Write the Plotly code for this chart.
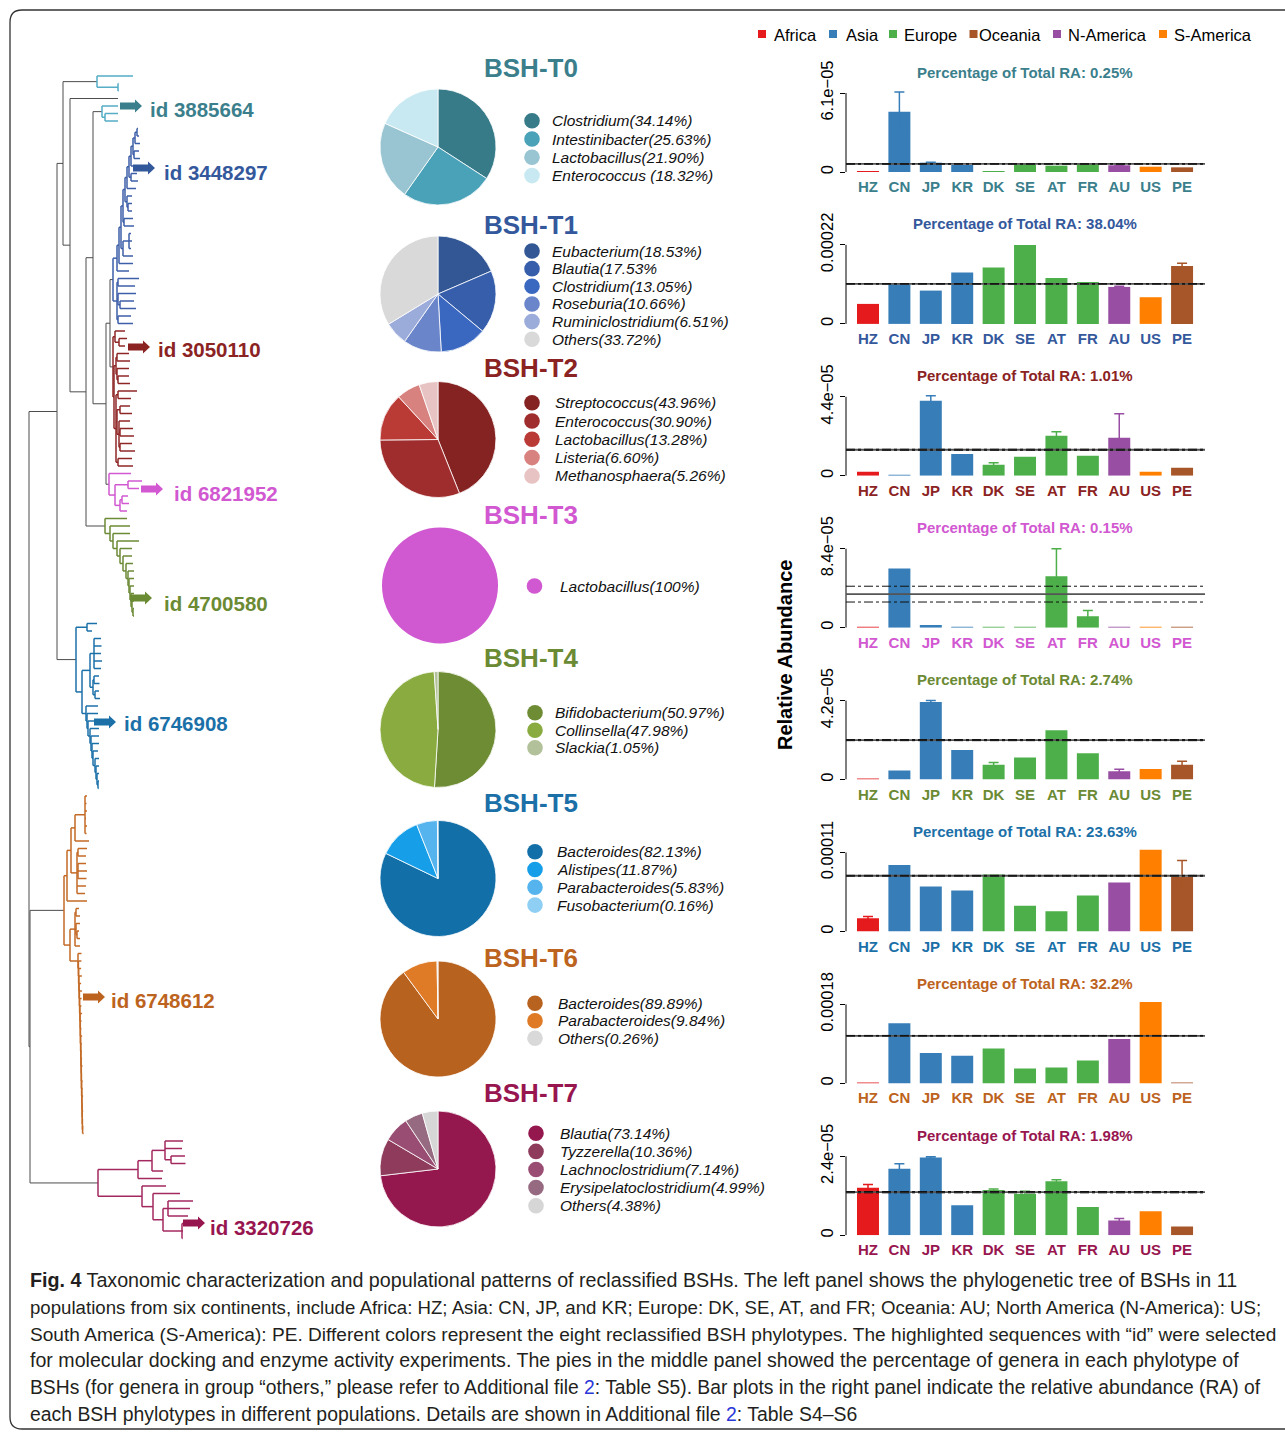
import plotly.graph_objects as go

W, H = 1285, 1432
FONT = "Liberation Sans, Arial, Helvetica, sans-serif"

# ---------------- populations ----------------
COUNTRIES = ["HZ", "CN", "JP", "KR", "DK", "SE", "AT", "FR", "AU", "US", "PE"]
CONTINENTS = ["Africa", "Asia", "Europe", "Oceania", "N-America", "S-America"]
CONTINENT_COLORS = ["#e41a1c", "#377eb8", "#4daf4a", "#a65628", "#984ea3", "#ff7f00"]
COUNTRY_COLORS = ["#e41a1c", "#377eb8", "#377eb8", "#377eb8", "#4daf4a", "#4daf4a",
                  "#4daf4a", "#4daf4a", "#984ea3", "#ff7f00", "#a65628"]

# ---------------- phylotypes ----------------
PHYLOTYPES = ["BSH-T0", "BSH-T1", "BSH-T2", "BSH-T3", "BSH-T4", "BSH-T5", "BSH-T6", "BSH-T7"]
TYPE_COLORS = ["#3b7f8c", "#34589c", "#8b2323", "#d158d1", "#6b8a34", "#1b70a8", "#bd6320", "#98164f"]
BRANCH_COLORS = ["#55adc6", "#3d5fa8", "#8f2626", "#d158d1", "#6b8a34", "#1b70a8", "#c36a26", "#a3285f"]
TOTAL_RA = ["0.25%", "38.04%", "1.01%", "0.15%", "2.74%", "23.63%", "32.2%", "1.98%"]

# relative abundance per population (mean and error) for each phylotype
RA_T0 = [0.4e-6, 4.66e-5, 7.2e-6, 5.4e-6, 0.5e-6, 5.9e-6, 4.9e-6, 6.4e-6, 5.2e-6, 4.1e-6, 3.6e-6]
ERR_T0 = [0, 1.52e-5, 0.3e-6, 0, 0, 0.5e-6, 0, 0, 0.3e-6, 0, 0]
RA_T1 = [5.57e-5, 1.105e-4, 9.28e-5, 1.43e-4, 1.57e-4, 2.2e-4, 1.28e-4, 1.17e-4, 1.03e-4, 7.43e-5, 1.615e-4]
ERR_T1 = [0, 0, 0, 0, 0, 0, 0, 0, 2e-6, 0, 7.5e-6]
RA_T2 = [2.2e-6, 0.5e-6, 4.18e-5, 1.22e-5, 6.1e-6, 1.06e-5, 2.23e-5, 1.11e-5, 2.12e-5, 2.2e-6, 4.5e-6]
ERR_T2 = [0, 0, 2.8e-6, 0, 1.1e-6, 0, 2.2e-6, 0, 1.33e-5, 0, 0]
RA_T3 = [0.3e-6, 6.29e-5, 2.8e-6, 0.5e-6, 0.3e-6, 0.3e-6, 5.48e-5, 1.23e-5, 0.3e-6, 0.3e-6, 0.3e-6]
ERR_T3 = [0, 0, 0, 0, 0, 0, 2.92e-5, 5.9e-6, 0, 0, 0]
RA_T4 = [0.3e-6, 4.9e-6, 4.13e-5, 1.575e-5, 7.9e-6, 1.17e-5, 2.63e-5, 1.4e-5, 4.5e-6, 5.6e-6, 7.9e-6]
ERR_T4 = [0, 0, 0.7e-6, 0, 1.2e-6, 0, 0, 0, 1.05e-6, 0, 1.9e-6]
RA_T5 = [1.84e-5, 9.25e-5, 6.28e-5, 5.71e-5, 7.93e-5, 3.59e-5, 2.83e-5, 5.0e-5, 6.84e-5, 1.137e-4, 7.6e-5]
ERR_T5 = [2.4e-6, 0, 0, 0, 0, 0, 0, 0, 0, 0, 2.27e-5]
RA_T6 = [0.5e-6, 1.372e-4, 6.9e-5, 6.28e-5, 7.97e-5, 3.37e-5, 3.6e-5, 5.21e-5, 1.011e-4, 1.855e-4, 0.5e-6]
ERR_T6 = [0, 0, 0, 0, 0, 0, 0, 0, 0, 0, 0]
RA_T7 = [1.443e-5, 2.02e-5, 2.36e-5, 9.1e-6, 1.38e-5, 1.26e-5, 1.64e-5, 8.6e-6, 4.5e-6, 7.3e-6, 2.7e-6]
ERR_T7 = [1.0e-6, 1.5e-6, 0.3e-6, 0, 0.3e-6, 0.8e-6, 0.5e-6, 0, 0.6e-6, 0, 0]

RA_TOP = [6.1e-5, 2.2e-4, 4.4e-5, 8.4e-5, 4.2e-5, 1.1e-4, 1.8e-4, 2.4e-5]
RA_TOP_LABEL = ["6.1e\u221205", "0.00022", "4.4e\u221205", "8.4e\u221205",
                "4.2e\u221205", "0.00011", "0.00018", "2.4e\u221205"]
# overall mean (solid) and its standard error (dot-dash)
RA_MEAN = [6.2e-6, 1.114e-4, 1.45e-5, 3.57e-5, 2.1e-5, 7.76e-5, 1.085e-4, 1.31e-5]
RA_SE = [2e-7, 8e-7, 3e-7, 8.4e-6, 3e-7, 6e-7, 8e-7, 2e-7]

# ---------------- genus composition ----------------
LEGEND_T0 = ["Clostridium(34.14%)", "Intestinibacter(25.63%)", "Lactobacillus(21.90%)", "Enterococcus (18.32%)"]
SHARE_T0 = [34.14, 25.63, 21.90, 18.32]
COLORS_T0 = ["#377b89", "#4aa2b9", "#99c5d2", "#c8e8f2"]
LEGEND_T1 = ["Eubacterium(18.53%)", "Blautia(17.53%", "Clostridium(13.05%)", "Roseburia(10.66%)",
             "Ruminiclostridium(6.51%)", "Others(33.72%)"]
SHARE_T1 = [18.53, 17.53, 13.05, 10.66, 6.51, 33.72]
COLORS_T1 = ["#335795", "#365eab", "#3a68c0", "#6a85c9", "#9cacda", "#d9d9d9"]
LEGEND_T2 = ["Streptococcus(43.96%)", "Enterococcus(30.90%)", "Lactobacillus(13.28%)", "Listeria(6.60%)",
             "Methanosphaera(5.26%)"]
SHARE_T2 = [43.96, 30.90, 13.28, 6.60, 5.26]
COLORS_T2 = ["#852323", "#a02d2d", "#ba3a36", "#d8827f", "#e7c3c3"]
LEGEND_T3 = ["Lactobacillus(100%)"]
SHARE_T3 = [100]
COLORS_T3 = ["#d058d0"]
LEGEND_T4 = ["Bifidobacterium(50.97%)", "Collinsella(47.98%)", "Slackia(1.05%)"]
SHARE_T4 = [50.97, 47.98, 1.05]
COLORS_T4 = ["#6d8c34", "#89ab40", "#b2c19a"]
LEGEND_T5 = ["Bacteroides(82.13%)", "Alistipes(11.87%)", "Parabacteroides(5.83%)", "Fusobacterium(0.16%)"]
SHARE_T5 = [82.13, 11.87, 5.83, 0.16]
COLORS_T5 = ["#136fa8", "#169fe8", "#55b4ee", "#8fcff4"]
LEGEND_T6 = ["Bacteroides(89.89%)", "Parabacteroides(9.84%)", "Others(0.26%)"]
SHARE_T6 = [89.89, 9.84, 0.26]
COLORS_T6 = ["#b8621f", "#df7a26", "#d9d9d9"]
LEGEND_T7 = ["Blautia(73.14%)", "Tyzzerella(10.36%)", "Lachnoclostridium(7.14%)",
             "Erysipelatoclostridium(4.99%)", "Others(4.38%)"]
SHARE_T7 = [73.14, 10.36, 7.14, 4.99, 4.38]
COLORS_T7 = ["#94174e", "#8e3b5c", "#9a4d73", "#966a80", "#d6d6d6"]

# ---------------- phylogenetic tree (Newick, branch lengths) ----------------
BACKBONE = ("(((T0a:0.34,(:0.48,((T0b:0.09,((T1:0.03,T2:0.03):0.04,T3:0.03):0.13):0.07,"
            "T4:0.19):0.16):0.07):0.06,T5:0.19):0.28,(T6:0.34,T7:0.68):0.01)")
T0A = "(:0.36,(:0.005,:0.005):0.21)"
T0B = "(:0.16,(:0.13,:0.13):0.03)"
T1_TIP = "(:0.01,:0.02)"
T1_RUNGS = [(0.02, ":0.05"), (0.02, "(:0.05,:0.06):0.01"), (0.02, ":0.07"), (0.02, "(:0.06,:0.07):0.02"),
            (0.02, ":0.09"), (0.02, "(:0.05,(:0.04,:0.04):0.01):0.02"), (0.02, "(:0.09,:0.10):0.01"),
            (0.02, "((:0.02,:0.03,:0.02):0.06,:0.10):0.02"), (0.02, ":0.14"), (0.02, ":0.12")]
T1_LOWER = "((:0.21,:0.17):0.01,(:0.18,(:0.14,:0.16):0.02):0.01,(:0.13,:0.15):0.01)"
T2 = ("((:0.10,(:0.08,:0.06):0.04):0.02,(((:0.12,:0.13):0.01,(:0.12,(:0.11,:0.12):0.01):0.01):0.02,"
      "((:0.19,:0.13):0.02,((:0.10,:0.12):0.03,(:0.11,(:0.13,:0.14):0.01,(:0.12,:0.15):0.01):0.02):0.01,"
      "(:0.14,:0.15):0.02):0.02):0.01)")
T3 = "(:0.22,((:0.14,:0.11):0.13,((:0.06,:0.07):0.02,:0.07):0.05):0.06)"
T4_TIP = "(:0.01,:0.01)"
T4_RUNGS = [(0.01, ":0.02"), (0.01, ":0.03"), (0.01, ":0.04"), (0.01, ":0.05"), (0.01, ":0.06"),
            (0.02, ":0.07"), (0.03, ":0.09"), (0.03, ":0.12"), (0.03, ":0.22"), (0.04, ":0.17"),
            (0.03, ":0.20"), (0.05, ":0.22")]
T5_TOP = "(:0.10,:0.05)"
T5_MID = "((:0.07,:0.075,:0.07,:0.08,:0.07):0.04,((:0.05,:0.055):0.01,(:0.04,:0.05):0.02):0.03)"
T5_TIP = "(:0.01,:0.005)"
T5_RUNGS = [(0.01, ":0.02"), (0.01, ":0.03"), (0.01, ":0.04"), (0.02, ":0.05"), (0.01, ":0.07"),
            (0.01, ":0.08"), (0.01, ":0.09"), (0.02, ":0.10"), (0.01, ":0.11"), (0.01, ":0.12")]
T6_A1 = "((:0.02,:0.015,:0.02,:0.01,:0.02,:0.015):0.10,:0.14)"
T6_A2 = "((:0.09,:0.08):0.01,(:0.08,:0.09,:0.085):0.01,:0.09,:0.08)"
T6_B1 = "((:0.03,:0.04):0.01,(:0.04,(:0.02,:0.03):0.01):0.01,:0.05)"
T6_TIP = "(:0.005,:0.01)"
T6_RUNGS = [(0.002, ":0.005"), (0.002, ":0.01"), (0.001, ":0.006"), (0.002, ":0.012"), (0.001, ":0.008"),
            (0.002, ":0.01"), (0.002, ":0.006"), (0.001, ":0.012"), (0.002, ":0.01"), (0.002, ":0.008"),
            (0.001, ":0.01"), (0.002, ":0.015"), (0.002, ":0.01"), (0.001, ":0.012"), (0.002, ":0.02"),
            (0.002, ":0.015"), (0.003, ":0.02"), (0.002, ":0.025"), (0.003, ":0.02"), (0.002, ":0.03"),
            (0.003, ":0.025"), (0.002, ":0.03"), (0.004, ":0.035")]
T7 = ("((((:0.18,:0.17,(:0.14,:0.145):0.06):0.13,:0.11):0.14,:0.24):0.40,"
      "(:0.24,(:0.27,((:0.25,:0.22,:0.20):0.05,(:0.02,:0.01,:0.005):0.19):0.10):0.11):0.44)")

HIGHLIGHT_IDS = ["id 3885664", "id 3448297", "id 3050110", "id 6821952",
                 "id 4700580", "id 6746908", "id 6748612", "id 3320726"]

CAPTION = [
    "<b>Fig. 4</b> Taxonomic characterization and populational patterns of reclassified BSHs. The left panel shows the phylogenetic tree of BSHs in 11",
    "populations from six continents, include Africa: HZ; Asia: CN, JP, and KR; Europe: DK, SE, AT, and FR; Oceania: AU; North America (N-America): US;",
    "South America (S-America): PE. Different colors represent the eight reclassified BSH phylotypes. The highlighted sequences with \u201cid\u201d were selected",
    "for molecular docking and enzyme activity experiments. The pies in the middle panel showed the percentage of genera in each phylotype of",
    "BSHs (for genera in group \u201cothers,\u201d please refer to Additional file <span style='color:#2a36d8'>2</span>: Table S5). Bar plots in the right panel indicate the relative abundance (RA) of",
    "each BSH phylotypes in different populations. Details are shown in Additional file <span style='color:#2a36d8'>2</span>: Table S4\u2013S6",
]

RAS = [RA_T0, RA_T1, RA_T2, RA_T3, RA_T4, RA_T5, RA_T6, RA_T7]
ERRS = [ERR_T0, ERR_T1, ERR_T2, ERR_T3, ERR_T4, ERR_T5, ERR_T6, ERR_T7]
LEGENDS = [LEGEND_T0, LEGEND_T1, LEGEND_T2, LEGEND_T3, LEGEND_T4, LEGEND_T5, LEGEND_T6, LEGEND_T7]
SHARES = [SHARE_T0, SHARE_T1, SHARE_T2, SHARE_T3, SHARE_T4, SHARE_T5, SHARE_T6, SHARE_T7]
PIE_COLORS = [COLORS_T0, COLORS_T1, COLORS_T2, COLORS_T3, COLORS_T4, COLORS_T5, COLORS_T6, COLORS_T7]


# ---------------- tree helpers ----------------
def ladder(tip, rungs, side_first):
    s = tip
    for spine, side in rungs:
        s = f"({side},{s}:{spine})" if side_first else f"({s}:{spine},{side})"
    return s


def parse_newick(s):
    s = s.replace(" ", "").rstrip(";")
    pos = 0

    def node():
        nonlocal pos
        children = []
        if s[pos] == "(":
            pos += 1
            while True:
                children.append(node())
                if s[pos] == ",":
                    pos += 1
                    continue
                if s[pos] == ")":
                    pos += 1
                    break
        name = ""
        while pos < len(s) and s[pos] not in ":,()":
            name += s[pos]
            pos += 1
        length = 0.0
        if pos < len(s) and s[pos] == ":":
            pos += 1
            num = ""
            while pos < len(s) and s[pos] not in ",()":
                num += s[pos]
                pos += 1
            length = float(num)
        return {"name": name, "len": length, "children": children, "group": None}

    return node()


T1 = "(" + ladder(T1_TIP, T1_RUNGS, False) + ":0.04," + T1_LOWER + ":0.04)"
T4 = ladder(T4_TIP, T4_RUNGS, True)
T5 = f"({T5_TOP}:0.11,({T5_MID}:0.08,{ladder(T5_TIP, T5_RUNGS, True)}:0.04):0.06)"
T6 = (f"((({T6_A1}:0.04,{T6_A2}:0.06):0.04,:0.20):0.03,"
      f"({T6_B1}:0.05,{ladder(T6_TIP, T6_RUNGS, True)}:0.08):0.06)")
CLADES = {"T0a": (T0A, 0), "T0b": (T0B, 0), "T1": (T1, 1), "T2": (T2, 2), "T3": (T3, 3),
          "T4": (T4, 4), "T5": (T5, 5), "T6": (T6, 6), "T7": (T7, 7)}


def paint(n, g):
    n["group"] = g
    for c in n["children"]:
        paint(c, g)


def graft(n):
    for i, c in enumerate(n["children"]):
        if c["name"] in CLADES:
            nwk, g = CLADES[c["name"]]
            sub = parse_newick(nwk)
            sub["len"] = c["len"]
            paint(sub, g)
            n["children"][i] = sub
        else:
            graft(c)


def place(n, x0, counter):
    n["x"] = x0 + n["len"]
    if not n["children"]:
        n["y"] = counter[0]
        counter[0] += 1
    else:
        for c in n["children"]:
            place(c, n["x"], counter)
        n["y"] = (n["children"][0]["y"] + n["children"][-1]["y"]) / 2


def collect(n, parent, segs):
    if parent is not None:
        g = parent["group"]
        segs.setdefault(g, ([], []))
        segs[g][0].extend([parent["x"], n["x"], None])
        segs[g][1].extend([n["y"], n["y"], None])
    if n["children"]:
        g = n["group"]
        segs.setdefault(g, ([], []))
        segs[g][0].extend([n["x"], n["x"], None])
        segs[g][1].extend([n["children"][0]["y"], n["children"][-1]["y"], None])
    for c in n["children"]:
        collect(c, n, segs)


tree = parse_newick(BACKBONE)
graft(tree)
place(tree, 0.0, [0])
segments = {}
collect(tree, None, segments)

fig = go.Figure()

# tree lines: backbone first, then each phylotype
for g in [None] + list(range(8)):
    if g not in segments:
        continue
    xs, ys = segments[g]
    fig.add_trace(go.Scatter(
        x=xs, y=ys, mode="lines", xaxis="x", yaxis="y", hoverinfo="skip", showlegend=False,
        line=dict(color="#4d4d4d" if g is None else BRANCH_COLORS[g], width=1.0 if g is None else 1.5)))

# invisible anchor for the full-page canvas axes
fig.add_trace(go.Scatter(x=[0], y=[0], xaxis="x10", yaxis="y10", mode="markers",
                         marker=dict(opacity=0), hoverinfo="skip", showlegend=False))

shapes = []
annotations = []


def canvas_text(x, y, text, size, color="black", bold=False, xanchor="left", angle=0):
    annotations.append(dict(
        x=x, y=y, xref="x10", yref="y10", text=text, showarrow=False, xanchor=xanchor,
        yanchor="middle", textangle=angle,
        font=dict(family=FONT, size=size, color=color, weight="bold" if bold else "normal")))


# frame
shapes.append(dict(type="path", xref="x10", yref="y10", layer="above",
                   path="M 1300 10 L 22 10 Q 10 10 10 22 L 10 1417 Q 10 1429 22 1429 L 1300 1429",
                   line=dict(color="#333333", width=1.3)))

# highlighted sequences: block arrows + ids
ARROW_PX = [(120, 106), (133, 168), (128, 347), (141, 489), (130, 598), (94, 722), (83, 997), (183, 1223)]
LABEL_PX = [(148, 109), (162, 172), (156, 349), (172, 493), (162, 603), (122, 723), (109, 1000), (208, 1227)]
for k in range(8):
    ax0, ay = ARROW_PX[k]
    path = (f"M {ax0} {ay - 3.6} L {ax0 + 15} {ay - 3.6} L {ax0 + 15} {ay - 6.5} L {ax0 + 22} {ay} "
            f"L {ax0 + 15} {ay + 6.5} L {ax0 + 15} {ay + 3.6} L {ax0} {ay + 3.6} Z")
    shapes.append(dict(type="path", xref="x10", yref="y10", path=path,
                       fillcolor=TYPE_COLORS[k], line=dict(width=0)))
    lx, ly = LABEL_PX[k]
    canvas_text(lx, ly, HIGHLIGHT_IDS[k], 20.5, TYPE_COLORS[k], bold=True)

# pies with titles and legends
PIE_CENTER = [(438, 147), (438, 294), (438, 439.5), (440, 585.5), (438, 729.5), (438, 878.5), (438, 1019), (438, 1169)]
PIE_R = 58
TITLE_Y = [68, 224.5, 368, 515, 658, 803, 958, 1093]
LEG_Y0 = [120.7, 251, 402.7, 586, 712.7, 851.7, 1003.3, 1133.3]
LEG_DY = [18.3, 17.65, 18.3, 0, 17.5, 17.8, 17.5, 18.1]
LEG_DOT_X = [532, 532, 532, 534.5, 535, 535, 535, 536]
LEG_TXT_X = [550, 550, 552.5, 558, 552.5, 555, 555.5, 558]
for k in range(8):
    cx, cy = PIE_CENTER[k]
    fig.add_trace(go.Pie(
        values=SHARES[k], labels=LEGENDS[k], sort=False, direction="clockwise", rotation=0,
        textinfo="none", hoverinfo="label", showlegend=False,
        marker=dict(colors=PIE_COLORS[k], line=dict(color="white", width=0.8 if len(SHARES[k]) > 1 else 0)),
        domain=dict(x=[(cx - PIE_R) / W, (cx + PIE_R) / W], y=[1 - (cy + PIE_R) / H, 1 - (cy - PIE_R) / H])))
    canvas_text(530.5, TITLE_Y[k], PHYLOTYPES[k], 26, TYPE_COLORS[k], bold=True, xanchor="center")
    for i, lab in enumerate(LEGENDS[k]):
        ly = LEG_Y0[k] + i * LEG_DY[k]
        dx = LEG_DOT_X[k]
        shapes.append(dict(type="circle", xref="x10", yref="y10", x0=dx - 7.8, x1=dx + 7.8,
                           y0=ly - 7.8, y1=ly + 7.8, fillcolor=PIE_COLORS[k][i], line=dict(width=0)))
        canvas_text(LEG_TXT_X[k], ly, f"<i>{lab}</i>", 15.5, "#111111")

# bar panels
PANEL_X0, PANEL_X1 = 846, 1205
ZERO_PX0, PANEL_PITCH, PANEL_H, TICK_PX = 172, 151.9, 100, 79
layout_axes = {}
for k in range(8):
    ax = k + 2
    z = ZERO_PX0 + k * PANEL_PITCH
    top = RA_TOP[k]
    for j, c in enumerate(COUNTRIES):
        e = ERRS[k][j]
        fig.add_trace(go.Bar(
            x=[c], y=[RAS[k][j]], width=0.7, xaxis=f"x{ax}", yaxis=f"y{ax}", showlegend=False,
            marker=dict(color=COUNTRY_COLORS[j], line=dict(width=0)),
            error_y=dict(type="data", array=[e], visible=e > 0, color=COUNTRY_COLORS[j],
                         thickness=1.5, width=5)))
    layout_axes[f"xaxis{ax}"] = dict(
        domain=[PANEL_X0 / W, PANEL_X1 / W], range=[-0.7, 10.73], type="category",
        categoryorder="array", categoryarray=COUNTRIES, anchor=f"y{ax}", showgrid=False,
        zeroline=False, showline=False, ticks="outside", ticklen=1, tickcolor="rgba(0,0,0,0)",
        tickfont=dict(family=FONT, size=15, color=TYPE_COLORS[k], weight="bold"), fixedrange=True)
    layout_axes[f"yaxis{ax}"] = dict(
        domain=[1 - z / H, 1 - (z - PANEL_H) / H], range=[0, top * PANEL_H / TICK_PX],
        anchor=f"x{ax}", tickmode="array", tickvals=[0, top], ticktext=["0", RA_TOP_LABEL[k]],
        tickangle=-90, ticks="outside", ticklen=5, tickwidth=1, tickcolor="black",
        tickfont=dict(family=FONT, size=16.5, color="black"), showgrid=False, zeroline=False,
        showline=False, fixedrange=True)
    shapes.append(dict(type="line", xref="paper", yref=f"y{ax}", x0=PANEL_X0 / W, x1=PANEL_X0 / W,
                       y0=0, y1=top, line=dict(color="black", width=1)))
    shapes.append(dict(type="line", xref="paper", yref=f"y{ax}", x0=PANEL_X0 / W, x1=PANEL_X1 / W,
                       y0=RA_MEAN[k], y1=RA_MEAN[k], line=dict(color="#555555", width=1.8)))
    for sgn in (1, -1):
        yv = RA_MEAN[k] + sgn * RA_SE[k]
        shapes.append(dict(type="line", xref="paper", yref=f"y{ax}", x0=PANEL_X0 / W, x1=PANEL_X1 / W,
                           y0=yv, y1=yv, line=dict(color="#111111", width=1, dash="dashdot")))
    canvas_text(1025, z - 100, f"Percentage of Total RA: {TOTAL_RA[k]}", 15, TYPE_COLORS[k],
                bold=True, xanchor="center")

canvas_text(785, 655, "Relative Abundance", 20, "black", bold=True, xanchor="center", angle=-90)

# continent legend
LEG_SQ_X = [762, 833, 893, 973.5, 1057, 1163]
LEG_LAB_X = [772, 844, 902, 977, 1066, 1172]
for i, name in enumerate(CONTINENTS):
    sx = LEG_SQ_X[i]
    shapes.append(dict(type="rect", xref="x10", yref="y10", x0=sx - 4, x1=sx + 4, y0=30, y1=38,
                       fillcolor=CONTINENT_COLORS[i], line=dict(width=0)))
    canvas_text(LEG_LAB_X[i], 34.5, name, 16.5, "black")

# caption, one annotation per printed line
CAPTION_Y = [1280, 1307, 1334, 1360, 1387, 1414]
CAPTION_SIZE = [19.7, 18.65, 19.1, 19.6, 19.3, 19.4]
for i, line in enumerate(CAPTION):
    canvas_text(28, CAPTION_Y[i], line, CAPTION_SIZE[i], "#231f20")

fig.update_layout(
    width=W, height=H, autosize=False, margin=dict(l=0, r=0, t=0, b=0),
    template="none", paper_bgcolor="white", plot_bgcolor="rgba(0,0,0,0)",
    barmode="overlay", showlegend=False, shapes=shapes, annotations=annotations,
    xaxis=dict(domain=[0, 400 / W], range=[-0.29, 3.71], visible=False, fixedrange=True),
    yaxis=dict(domain=[0, 1], range=[(H - 76) / 7.5, -76 / 7.5], visible=False, fixedrange=True),
    xaxis10=dict(domain=[0, 1], range=[0, W], visible=False, fixedrange=True),
    yaxis10=dict(domain=[0, 1], range=[H, 0], visible=False, fixedrange=True),
    **layout_axes,
)

fig.write_html("out.html")
